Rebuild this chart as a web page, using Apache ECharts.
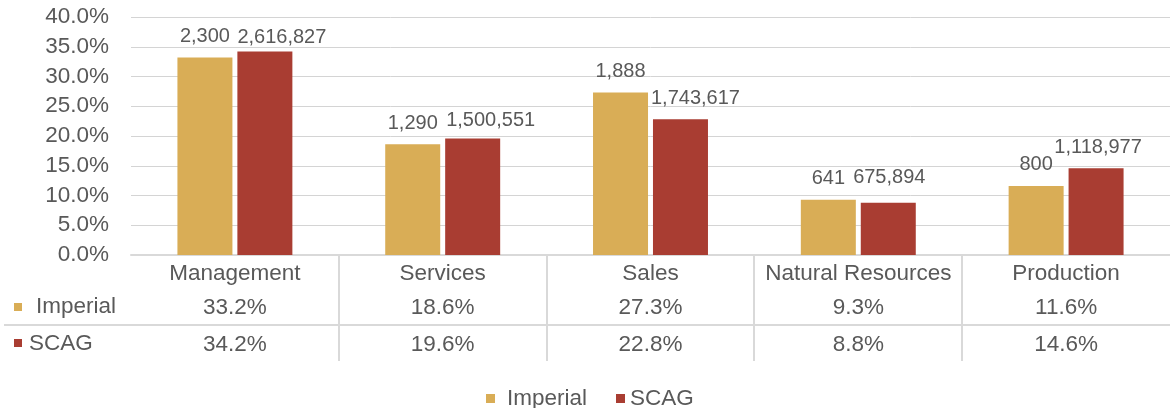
<!DOCTYPE html>
<html>
<head>
<meta charset="utf-8">
<script src="https://cdn.jsdelivr.net/npm/echarts@6/dist/echarts.min.js"></script>
<style>
  html, body { margin: 0; padding: 0; background: #ffffff; }
  #chart { width: 1170px; height: 408px; }
</style>
</head>
<body>
<div id="chart"></div>
<script>
// ---- data ----
const categories = ['Management', 'Services', 'Sales', 'Natural Resources', 'Production'];
const seriesNames = ['Imperial', 'SCAG'];
const imperialPct = [33.2, 18.6, 27.3, 9.3, 11.6];
const scagPct = [34.2, 19.6, 22.8, 8.8, 14.6];
const imperialCount = [2300, 1290, 1888, 641, 800];
const scagCount = [2616827, 1500551, 1743617, 675894, 1118977];
const yTicks = { min: 0, max: 40, interval: 5 };

// ---- style ----
const GOLD = '#D9AD56';
const RED = '#A93D32';
const TXT = '#595959';
const LINE = '#d9d9d9';
const FONT = '"Liberation Sans", Arial, sans-serif';
const BIG = 22.5;
const SMALL = 20;
// label nudges mimicking the reference's collision-avoided label placement
const scagLabelNudge = [[17, 7], [18, 3], [15, 0], [1, -4], [2, 0]];

const fmtCount = v => v.toLocaleString('en-US');
const fmtPct = v => v.toFixed(1) + '%';

const chart = echarts.init(document.getElementById('chart'), null, { renderer: 'canvas' });

const GRID = { left: 131, top: 17, width: 1046, height: 238 };

function tableAxis(labels, offset) {
  return {
    type: 'category', data: labels, gridIndex: 0, position: 'bottom', offset: offset,
    axisLine: { show: false }, axisTick: { show: false },
    axisLabel: { interval: 0, margin: 7, fontSize: BIG, color: TXT, fontFamily: FONT }
  };
}

const option = {
  animation: false,
  backgroundColor: '#ffffff',
  textStyle: { fontFamily: FONT },
  grid: GRID,
  legend: {
    data: [
      { name: seriesNames[0], textStyle: { padding: [0, 0, 0, 7] } },
      { name: seriesNames[1] }
    ],
    left: 481, top: 382, icon: 'rect', itemWidth: 9, itemHeight: 9, itemGap: 29,
    textStyle: { fontSize: BIG, color: TXT, fontFamily: FONT }
  },
  xAxis: [
    {
      type: 'category', data: categories, gridIndex: 0,
      axisLine: { show: true, lineStyle: { color: LINE, width: 2 } },
      axisTick: { show: false },
      axisLabel: { interval: 0, margin: 7, fontSize: BIG, color: TXT, fontFamily: FONT }
    },
    tableAxis(imperialPct.map(fmtPct), 34),
    tableAxis(scagPct.map(fmtPct), 71)
  ],
  yAxis: {
    type: 'value', min: yTicks.min, max: yTicks.max, interval: yTicks.interval,
    axisLine: { show: false }, axisTick: { show: false },
    axisLabel: { formatter: v => v.toFixed(1) + '%', fontSize: BIG, color: TXT, margin: 22, fontFamily: FONT },
    splitLine: { lineStyle: { color: '#d4d4d4', width: 1 } }
  },
  series: [
    {
      name: seriesNames[0], type: 'bar', xAxisIndex: 0, barWidth: 55, barGap: '9%',
      itemStyle: { color: GOLD },
      data: imperialPct,
      label: {
        show: true, position: 'top', distance: 11, fontSize: SMALL, color: TXT, fontFamily: FONT,
        formatter: p => fmtCount(imperialCount[p.dataIndex])
      }
    },
    {
      name: seriesNames[1], type: 'bar', xAxisIndex: 0, barWidth: 55, barGap: '9%',
      itemStyle: { color: RED },
      data: scagPct.map((v, i) => ({ value: v, label: { offset: scagLabelNudge[i] } })),
      label: {
        show: true, position: 'top', distance: 11, fontSize: SMALL, color: TXT, fontFamily: FONT,
        formatter: p => fmtCount(scagCount[p.dataIndex])
      }
    }
  ]
};
chart.setOption(option);

// table decorations (borders + row headers) placed from the axis scale
const centers = categories.map((c, i) => chart.convertToPixel({ xAxisIndex: 0 }, i));
const axisY = chart.convertToPixel({ yAxisIndex: 0 }, 0);
const graphics = [];
for (let i = 1; i < centers.length; i++) {
  const x = Math.round((centers[i - 1] + centers[i]) / 2);
  graphics.push({ type: 'line', shape: { x1: x, y1: axisY, x2: x, y2: axisY + 106 },
    style: { stroke: LINE, lineWidth: 2 }, silent: true });
}
graphics.push({ type: 'line', shape: { x1: 4, y1: axisY + 70, x2: 1170, y2: axisY + 70 },
  style: { stroke: LINE, lineWidth: 2 }, silent: true });
// row headers
graphics.push({ type: 'rect', shape: { x: 14, y: axisY + 48, width: 8, height: 8 }, style: { fill: GOLD } });
graphics.push({ type: 'text', x: 36, y: axisY + 52, style: { text: seriesNames[0], fontSize: BIG, fill: TXT, fontFamily: FONT, textVerticalAlign: 'middle', verticalAlign: 'middle' } });
graphics.push({ type: 'rect', shape: { x: 14, y: axisY + 84, width: 8, height: 8 }, style: { fill: RED } });
graphics.push({ type: 'text', x: 29, y: axisY + 89, style: { text: seriesNames[1], fontSize: BIG, fill: TXT, fontFamily: FONT, textVerticalAlign: 'middle', verticalAlign: 'middle' } });
chart.setOption({ graphic: graphics });
</script>
</body>
</html>
